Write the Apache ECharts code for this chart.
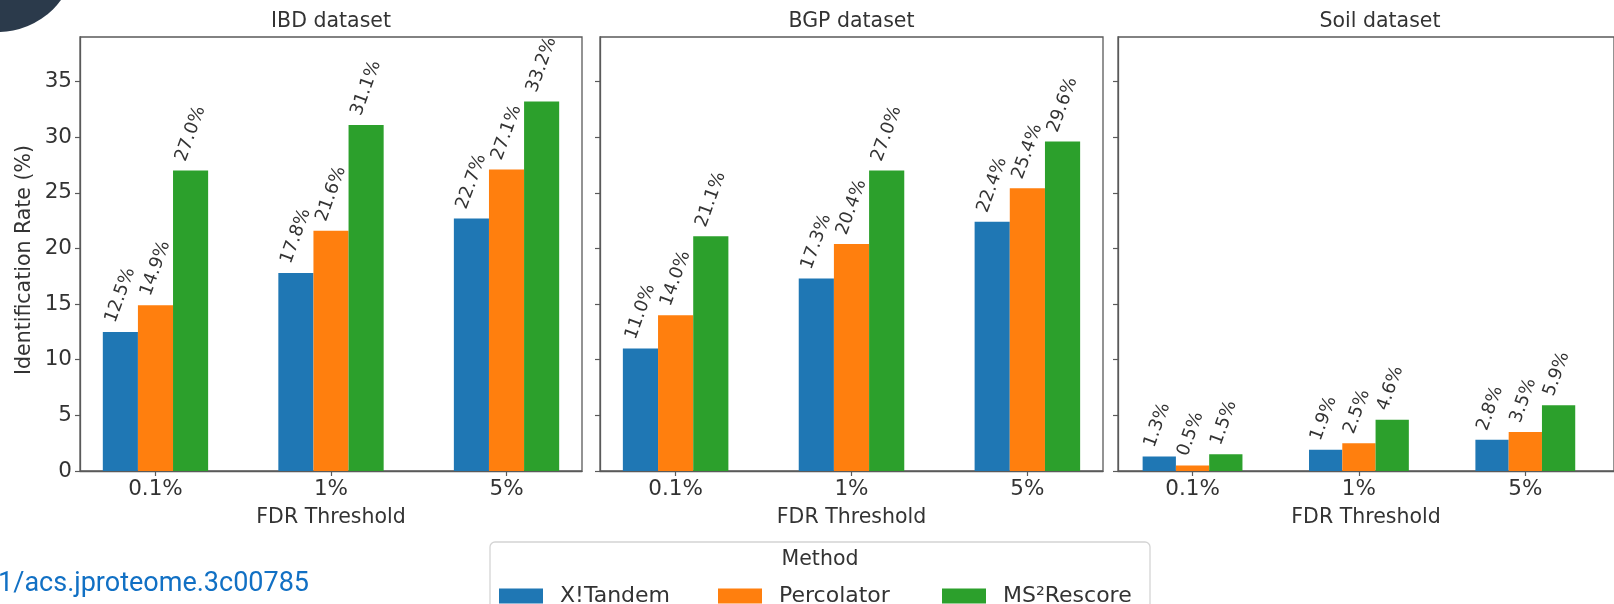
<!DOCTYPE html>
<html>
<head>
<meta charset="utf-8">
<title>Identification rate by FDR threshold</title>
<script src="https://cdn.jsdelivr.net/npm/echarts@6/dist/echarts.min.js"></script>
<style>
  html, body { margin: 0; padding: 0; background: #ffffff; }
  #chart { width: 1614px; height: 604px; }
</style>
</head>
<body>
<div id="chart"></div>
<script>
// ---- data ----
const thresholds = ['0.1%', '1%', '5%'];
const methods = ['X!Tandem', 'Percolator', 'MS²Rescore'];
const datasetTitles = ['IBD dataset', 'BGP dataset', 'Soil dataset'];
const yTickValues = [0, 5, 10, 15, 20, 25, 30, 35];

const ibdXTandem = [12.5, 17.8, 22.7];
const ibdPercolator = [14.9, 21.6, 27.1];
const ibdMS2Rescore = [27.0, 31.1, 33.2];

const bgpXTandem = [11.0, 17.3, 22.4];
const bgpPercolator = [14.0, 20.4, 25.4];
const bgpMS2Rescore = [21.1, 27.0, 29.6];

const soilXTandem = [1.3, 1.9, 2.8];
const soilPercolator = [0.5, 2.5, 3.5];
const soilMS2Rescore = [1.5, 4.6, 5.9];

const panelValues = [
  [ibdXTandem, ibdPercolator, ibdMS2Rescore],
  [bgpXTandem, bgpPercolator, bgpMS2Rescore],
  [soilXTandem, soilPercolator, soilMS2Rescore]
];

// ---- styling / layout ----
const methodColors = ['#1f77b4', '#ff7f0e', '#2ca02c'];
const axisColor = '#5a5a5a';
const textColor = '#333333';
const font = 'DejaVu Sans';
const plotTop = 37;
const plotHeight = 434;
const yMax = 39;
const panels = [
  { left: 80,   width: 502, xMin: -0.43,  xMax: 2.43 },
  { left: 600,  width: 503, xMin: -0.43,  xMax: 2.43 },
  { left: 1118, width: 524, xMin: -0.448, xMax: 2.533 }
];
const legendSwatchX = [494, 713, 937];

const grids = panels.map(p => ({
  left: p.left, top: plotTop, width: p.width, height: plotHeight,
  show: true, borderColor: axisColor, borderWidth: 1.3,
  backgroundColor: 'transparent'
}));

const xAxes = panels.map((p, i) => ({
  type: 'value', gridIndex: i, min: p.xMin, max: p.xMax,
  splitLine: { show: false },
  axisLine: { show: true, onZero: false, lineStyle: { color: axisColor, width: 1.3 } },
  axisTick: { show: true, customValues: [0, 1, 2], length: 5, lineStyle: { color: axisColor, width: 1.2 } },
  axisLabel: {
    customValues: [0, 1, 2],
    formatter: v => thresholds[Math.round(v)],
    fontFamily: font, fontSize: 21.5, color: textColor, margin: 7
  },
  name: 'FDR Threshold', nameLocation: 'middle', nameGap: 36,
  nameTextStyle: { fontFamily: font, fontSize: 20.5, color: textColor }
}));

const yAxes = panels.map((p, i) => ({
  type: 'value', gridIndex: i, min: 0, max: yMax, position: 'left',
  splitLine: { show: false },
  axisLine: { show: true, onZero: false, lineStyle: { color: axisColor, width: 1.3 } },
  axisTick: { show: true, customValues: yTickValues, length: 5, lineStyle: { color: axisColor, width: 1.2 } },
  axisLabel: {
    show: i === 0, customValues: yTickValues,
    fontFamily: font, fontSize: 21.5, color: textColor, margin: 8
  }
}));

// Value labels sit above each bar, turned 70° so they read upwards.
// The offset is expressed in the label's own (rotated) frame.
const series = [];
panelValues.forEach((methodArrays, pi) => {
  methodArrays.forEach((vals, mi) => {
    series.push({
      type: 'bar', name: methods[mi],
      xAxisIndex: pi, yAxisIndex: pi,
      data: vals.map((v, ci) => [ci, v]),
      barWidth: '20%', barGap: '0%',
      itemStyle: { color: methodColors[mi] },
      label: {
        show: true, position: 'top', rotate: 70,
        align: 'left', verticalAlign: 'middle',
        distance: 5, offset: [1.3, -10.8],
        formatter: d => d.value[1].toFixed(1) + '%',
        fontFamily: font, fontSize: 18, color: textColor
      }
    });
  });
});

const legends = methods.map((m, i) => ({
  data: [m], left: legendSwatchX[i], top: 580,
  orient: 'horizontal', icon: 'rect',
  itemWidth: 44, itemHeight: 15, selectedMode: false,
  formatter: name => '{g|}' + name,
  textStyle: {
    fontFamily: font, fontSize: 22, color: textColor,
    rich: { g: { width: 12 } }
  }
}));

const graphics = [
  // dataset titles
  ...datasetTitles.map((t, i) => ({
    type: 'text', z: 10,
    x: i === 2 ? 1380 : panels[i].left + panels[i].width / 2, y: 22,
    style: { text: t, fontFamily: font, fontSize: 20.5, fill: textColor, align: 'center', verticalAlign: 'middle' }
  })),
  // y-axis title
  {
    type: 'text', z: 10, x: 25, y: 260, rotation: Math.PI / 2,
    style: { text: 'Identification Rate (%)', fontFamily: font, fontSize: 20.5, fill: textColor, align: 'center', verticalAlign: 'middle' }
  },
  // legend frame and heading
  {
    type: 'rect', z: 1,
    shape: { x: 490, y: 542, width: 660, height: 90, r: 5 },
    style: { fill: '#ffffff', stroke: '#d4d4d4', lineWidth: 1.3 }
  },
  {
    type: 'text', z: 10, x: 820, y: 560,
    style: { text: 'Method', fontFamily: font, fontSize: 20.5, fill: textColor, align: 'center', verticalAlign: 'middle' }
  },
  // DOI link
  {
    type: 'text', z: 10, x: 309, y: 584,
    style: { text: 'https://doi.org/10.1021/acs.jproteome.3c00785', fontFamily: 'Roboto', fontSize: 27, fill: '#1170c4', align: 'right', verticalAlign: 'middle' }
  },
  // corner badge
  {
    type: 'circle', z: 100,
    shape: { cx: -2, cy: -46, r: 78 },
    style: { fill: '#2b3a4b' }
  }
];

const chart = echarts.init(document.getElementById('chart'), null, { renderer: 'canvas' });
chart.setOption({
  animation: false,
  backgroundColor: '#ffffff',
  grid: grids,
  xAxis: xAxes,
  yAxis: yAxes,
  legend: legends,
  graphic: graphics,
  series: series
});
</script>
</body>
</html>
